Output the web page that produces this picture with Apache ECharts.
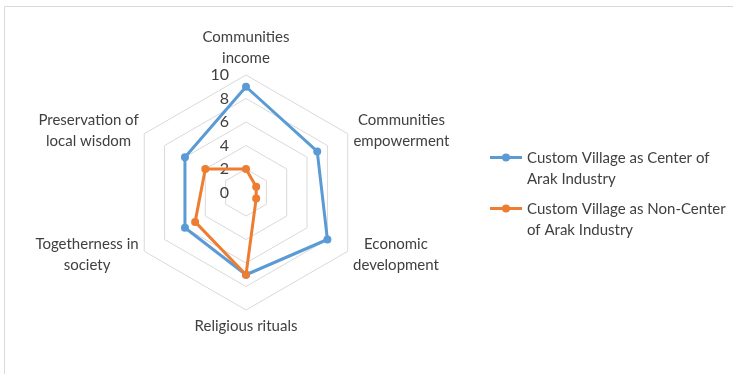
<!DOCTYPE html>
<html><head><meta charset="utf-8">
<script src="https://cdn.jsdelivr.net/npm/echarts@6/dist/echarts.min.js"></script>
<style>html,body{margin:0;padding:0;background:#fff}#c{width:733px;height:374px}</style>
</head><body><div id="c"></div>
<script>
// categories in clockwise order starting from the top
const categories = ['Communities\nincome','Communities\nempowerment','Economic\ndevelopment','Religious rituals','Togetherness in\nsociety','Preservation of\nlocal wisdom'];
const seriesNames = ['Custom Village as Center of Arak Industry','Custom Village as Non-Center of Arak Industry'];
const legendLabels = ['Custom Village as Center of\nArak Industry','Custom Village as Non-Center\nof Arak Industry'];
const centerValues = [9,7,8,7,6,6];
const nonCenterValues = [2,1,1,7,5,4];
const tickLabels = [0,2,4,6,8,10];
const colors = ['#5B9BD5','#ED7D31'];
const FONT = 'Lato';
const FS = 15;
const TXT = '#404040';
const cx = 246, cy = 192.5, R = 117.5;
// ECharts radar runs counter-clockwise; reorder so the picture runs clockwise
const order = categories.map((_, i) => (categories.length - i) % categories.length);
const reorder = arr => order.map(i => arr[i]);
const legendIcon = 'path://M0,2.6H32V5.4H0Z M12,4A4,4 0 1 1 20,4A4,4 0 1 1 12,4Z M0,31L0.01,31Z';
// measure text so multi-line names are centred within their block
const ctx = document.createElement('canvas').getContext('2d');
ctx.font = FS + 'px ' + FONT;
const nameWidth = s => Math.ceil(Math.max(...s.split('\n').map(l => ctx.measureText(l).width)));
const chart = echarts.init(document.getElementById('c'));
chart.setOption({
  animation:false,
  textStyle:{fontFamily:FONT},
  graphic:[{type:'rect',shape:{x:4.5,y:6.5,width:760,height:400},style:{fill:null,stroke:'#d9d9d9',lineWidth:1},silent:true,z:-1}],
  legend:{
    orient:'vertical', left:490, top:148, padding:0, itemWidth:32, itemHeight:31, itemGap:9,
    data:seriesNames.map((n,i)=>({name:n,icon:legendIcon,itemStyle:{color:colors[i]}})),
    formatter:function(n){return legendLabels[seriesNames.indexOf(n)];},
    textStyle:{fontFamily:FONT,fontSize:FS,color:TXT,lineHeight:21}
  },
  radar:{
    center:[cx,cy], radius:R, startAngle:90, splitNumber:5, shape:'polygon',
    indicator:reorder(categories).map(n=>({name:n,min:0,max:10})),
    axisName:{
      color:TXT,fontSize:FS,fontFamily:FONT,lineHeight:21,
      formatter:function(n){
        const w = nameWidth(n);
        return n.split('\n').map(l => '{c' + w + '|' + l + '}').join('\n');
      },
      rich:Object.fromEntries(categories.map(n => {
        const w = nameWidth(n);
        return ['c' + w, {width:w, align:'center', fontSize:FS, fontFamily:FONT, color:TXT, lineHeight:21}];
      }))
    },
    nameGap:6,
    axisLine:{show:false},
    splitLine:{lineStyle:{color:'#d9d9d9',width:1}},
    splitArea:{show:false},
    axisTick:{show:false}, axisLabel:{show:false}
  },
  grid:{left:cx, top:cy-R, width:1, height:R},
  xAxis:{type:'value',show:false},
  yAxis:{type:'value',min:0,max:10,interval:2,axisLine:{show:false},axisTick:{show:false},splitLine:{show:false},
    axisLabel:{margin:17,fontSize:16,color:TXT,fontFamily:FONT,formatter:v=>tickLabels.includes(v)?String(v):''}},
  series:[{
    type:'radar',
    data:[
      {name:seriesNames[0],value:reorder(centerValues),symbol:'circle',symbolSize:8,lineStyle:{color:colors[0],width:3},itemStyle:{color:colors[0]}},
      {name:seriesNames[1],value:reorder(nonCenterValues),symbol:'circle',symbolSize:8,lineStyle:{color:colors[1],width:3},itemStyle:{color:colors[1]}}
    ]
  }]
});
</script></body></html>
